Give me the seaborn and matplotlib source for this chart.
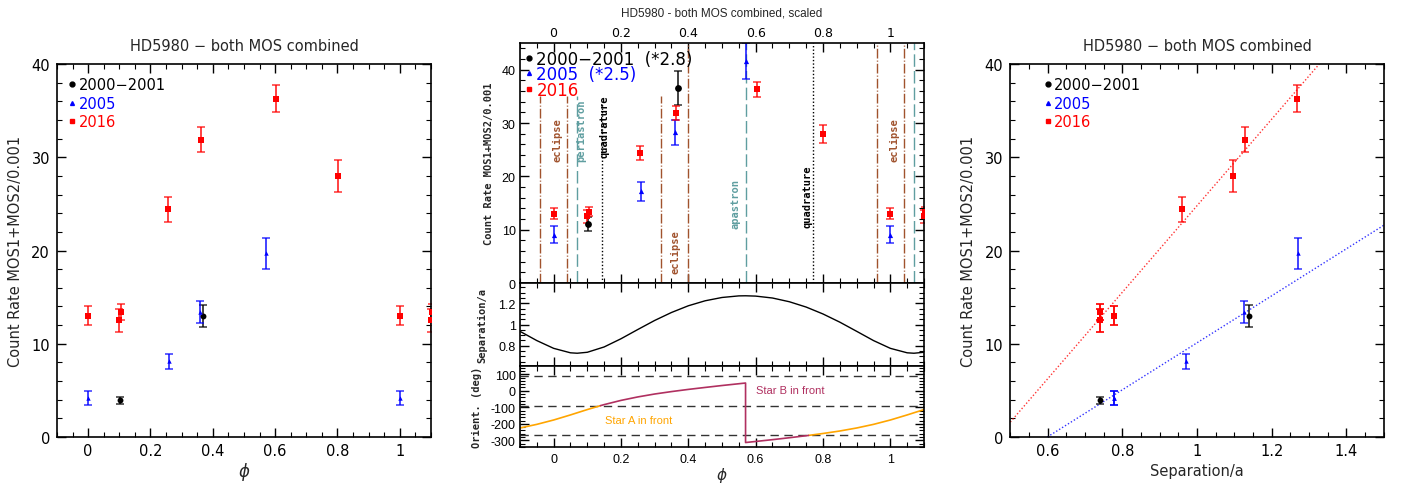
import numpy as np
import seaborn as sns
import matplotlib.pyplot as plt
from matplotlib.lines import Line2D
from matplotlib.ticker import MultipleLocator, FormatStrFormatter

# ---- data ----
# 2000-2001 (black)
phase_00 = [0.101, 0.369]
rate_00 = [3.93, 13.0]
err_00 = [0.40, 1.15]
sep_00 = [0.739, 1.139]
scaled_00 = [11.1, 36.6]
scaled_err_00 = [1.3, 3.2]

# 2005 (blue)
phase_05 = [0.0, 0.26, 0.359, 0.570, 1.0]
rate_05 = [4.2, 8.1, 13.4, 19.7, 4.2]
err_05 = [0.77, 0.85, 1.15, 1.65, 0.77]
sep_05 = [0.777, 0.970, 1.126, 1.270, 0.777]
scaled_05 = [9.06, 17.2, 28.3, 41.6, 9.06]
scaled_err_05 = [1.55, 1.8, 2.35, 3.4, 1.55]

# 2016 (red)
phase_16 = [0.0, 0.104, 0.100, 0.256, 0.363, 0.603, 0.801, 1.0, 1.104, 1.100]
rate_16 = [13.0, 13.4, 12.5, 24.4, 31.9, 36.3, 28.0, 13.0, 13.4, 12.5]
err_16 = [1.0, 0.85, 1.2, 1.35, 1.35, 1.4, 1.7, 1.0, 0.85, 1.2]
sep_16 = [0.777, 0.739, 0.739, 0.960, 1.129, 1.268, 1.096, 0.777, 0.739, 0.739]

# linear fits in the right panel (slope, intercept)
fit_16 = (46.4, -21.6)
fit_05 = (25.2, -15.1)

# orbital separation curve
orb_phase = [-0.10, -0.05, 0.00, 0.05, 0.07, 0.10, 0.15, 0.20, 0.25, 0.30, 0.35,
             0.40, 0.45, 0.50, 0.55, 0.57, 0.60, 0.65, 0.70, 0.75, 0.80, 0.85,
             0.90, 0.95, 1.00, 1.05, 1.07, 1.10]
orb_sep = [0.936, 0.849, 0.776, 0.734, 0.730, 0.739, 0.789, 0.866, 0.953, 1.038,
           1.113, 1.176, 1.223, 1.254, 1.269, 1.270, 1.267, 1.249, 1.214, 1.164,
           1.099, 1.022, 0.936, 0.849, 0.776, 0.734, 0.730, 0.739]

# orientation curve (deg)
ori_phase = [-0.10, -0.05, 0.00, 0.05, 0.07, 0.10, 0.139, 0.15, 0.20, 0.25, 0.30,
             0.35, 0.40, 0.45, 0.50, 0.55, 0.57, 0.57, 0.60, 0.65, 0.70, 0.75,
             0.757, 0.80, 0.85, 0.90, 0.95, 1.00, 1.05, 1.07, 1.10]
ori_deg = [-225.0, -203.1, -176.7, -146.0, -133.0, -113.6, -90.0, -83.6, -58.1,
           -37.1, -19.5, -4.8, 8.4, 20.3, 31.9, 42.7, 47.0, -313.0, -306.6,
           -295.6, -284.0, -271.8, -270.0, -258.3, -243.2, -225.0, -203.1,
           -176.7, -146.0, -133.0, -113.6]
ori_limits = [90, -90, -270]

# phase markers in the scaled panel
eclipse_phase = [-0.04, 0.04, 0.32, 0.40, 0.96, 1.04]
eclipse_top = [35, 35, 35, 45, 45, 45]
apsis_phase = [0.07, 0.57, 1.07]
apsis_top = [35, 45, 45]
quad_phase = [0.145, 0.77]
quad_top = [34, 45]
marker_labels = ["eclipse", "periastron", "quadrature", "eclipse", "apastron",
                 "quadrature", "eclipse"]
marker_label_x = [0.012, 0.083, 0.152, 0.363, 0.54, 0.753, 1.012]
marker_label_y = [26.9, 28.8, 29.4, 6.0, 15.0, 16.3, 26.9]

BROWN = "#a0522d"
TEAL = "#5f9ea0"
PURPLE = "#b03060"
ORANGE = "#ffa500"

sns.set_theme(style="ticks", rc={"axes.linewidth": 1.2, "axes.edgecolor": "black"})
plt.rcParams["font.family"] = ["DejaVu Sans"]
MONO = "DejaVu Sans Mono"
HELV = "Liberation Sans"

fig = plt.figure(figsize=(14.03, 4.85), dpi=100)
axL = fig.add_axes([0.0406, 0.0969, 0.2666, 0.769])
axT = fig.add_axes([0.3706, 0.4144, 0.288, 0.4948])
axS = fig.add_axes([0.3706, 0.2433, 0.288, 0.1711])
axO = fig.add_axes([0.3706, 0.0763, 0.288, 0.167])
axR = fig.add_axes([0.7201, 0.0969, 0.2661, 0.769])


def style_axes(ax, xmaj, xmin, ymaj, ymin, size, family=None):
    ax.xaxis.set_major_locator(MultipleLocator(xmaj))
    ax.xaxis.set_minor_locator(MultipleLocator(xmin))
    ax.yaxis.set_major_locator(MultipleLocator(ymaj))
    ax.yaxis.set_minor_locator(MultipleLocator(ymin))
    ax.xaxis.set_major_formatter(FormatStrFormatter("%g"))
    ax.yaxis.set_major_formatter(FormatStrFormatter("%g"))
    ax.tick_params(which="both", direction="in", top=True, right=True,
                   colors="black", labelsize=size)
    ax.tick_params(which="major", length=6.5, width=1.0)
    ax.tick_params(which="minor", length=3.3, width=0.8)
    ax.tick_params(axis="y", pad=5)
    ax.tick_params(axis="x", pad=4)
    if family:
        for lab in ax.get_xticklabels() + ax.get_yticklabels():
            lab.set_family(family)


def centre_labels(ax, xpos=None, ypos=None):
    if xpos is not None:
        ax.xaxis.label.set_va("center")
        ax.xaxis.set_label_coords(0.5, xpos)
    if ypos is not None:
        ax.yaxis.label.set_va("center")
        ax.yaxis.set_label_coords(ypos, 0.5)


def plot_series(ax, x, y, e, color, marker, size):
    ax.errorbar(x, y, yerr=e, fmt="none", ecolor=color, elinewidth=1.3,
                capsize=2.6, capthick=1.1, alpha=0.8, zorder=2)
    sns.scatterplot(x=x, y=y, ax=ax, color=color, marker=marker, s=size,
                    linewidth=0, zorder=3, legend=False)


def year_legend(ax, labels, anchor, fontsize, spacing):
    handles = [Line2D([], [], ls="none", marker="o", color="black", ms=3.5),
               Line2D([], [], ls="none", marker="^", color="blue", ms=2.8),
               Line2D([], [], ls="none", marker="s", color="red", ms=3.2)]
    ax.legend(handles, labels, loc="upper left", bbox_to_anchor=anchor,
              frameon=False, handlelength=0.5, handletextpad=0.2,
              labelspacing=spacing, borderaxespad=0, borderpad=0,
              fontsize=fontsize, labelcolor=["black", "blue", "red"])


# ---------- left panel: count rate vs phase ----------
plot_series(axL, phase_00, rate_00, err_00, "black", "o", 18)
plot_series(axL, phase_05, rate_05, err_05, "blue", "^", 10)
plot_series(axL, phase_16, rate_16, err_16, "red", "s", 14)
axL.set_xlim(-0.1, 1.1)
axL.set_ylim(0, 40)
style_axes(axL, 0.2, 0.05, 10, 2, 10.5)
axL.set_title("HD5980 \u2212 both MOS combined", fontsize=10.5, pad=10)
axL.set_xlabel("$\\phi$", fontsize=12)
axL.set_ylabel("Count Rate MOS1+MOS2/0.001", fontsize=10.5)
centre_labels(axL, xpos=-0.09, ypos=-0.112)
year_legend(axL, ["2000\u22122001", "2005", "2016"], (0.03, 0.965), 10.5, 0.25)

# ---------- middle top: scaled count rates ----------
for x, top in zip(eclipse_phase, eclipse_top):
    axT.plot([x, x], [0, top], color=BROWN, lw=1.0, ls=(0, (7, 1.5, 0.8, 1.5)), zorder=1)
for x, top in zip(apsis_phase, apsis_top):
    axT.plot([x, x], [0, top], color=TEAL, lw=1.0, ls=(0, (9, 3)), zorder=1)
for x, top in zip(quad_phase, quad_top):
    axT.plot([x, x], [0, top], color="black", lw=1.0, ls=(0, (1, 1.5)), zorder=1)
label_colors = {"eclipse": BROWN, "periastron": TEAL, "apastron": TEAL, "quadrature": "black"}
for txt, x, y in zip(marker_labels, marker_label_x, marker_label_y):
    axT.text(x, y, txt, rotation=90, ha="center", va="center", fontsize=7.5,
             family=MONO, fontweight="bold", color=label_colors[txt])

plot_series(axT, phase_00, scaled_00, scaled_err_00, "black", "o", 24)
plot_series(axT, phase_05, scaled_05, scaled_err_05, "blue", "^", 14)
plot_series(axT, phase_16, rate_16, err_16, "red", "s", 22)
axT.set_xlim(-0.1, 1.1)
axT.set_ylim(0, 45)
style_axes(axT, 0.2, 0.05, 10, 2, 9, HELV)
axT.tick_params(labeltop=True, labelbottom=False, pad=3)
axT.set_title("HD5980 - both MOS combined, scaled", fontsize=8.5, family=HELV, pad=20)
axT.set_ylabel("Count Rate MOS1+MOS2/0.001", fontsize=7.5, family=MONO, fontweight="bold")
centre_labels(axT, ypos=-0.077)
year_legend(axT, ["2000\u22122001  (*2.8)", "2005  (*2.5)", "2016"], (0.012, 0.972), 12, -0.15)

# ---------- middle: separation ----------
sns.lineplot(x=orb_phase, y=orb_sep, ax=axS, color="black", lw=1.0,
             sort=False, estimator=None)
axS.set_xlim(-0.1, 1.1)
axS.set_ylim(0.61, 1.39)
style_axes(axS, 0.2, 0.05, 0.2, 0.05, 9, HELV)
axS.tick_params(labelbottom=False, pad=3)
axS.set_ylabel("Separation/a", fontsize=7.5, family=MONO, fontweight="bold")
centre_labels(axS, ypos=-0.092)

# ---------- middle bottom: orientation ----------
deg = np.array(ori_deg)
starA = (deg <= -90) & (deg >= -270)
starB = (deg >= -90) | (deg <= -270)
for lim in ori_limits:
    axO.axhline(lim, color="#333333", lw=1.0, ls=(0, (6, 4)), zorder=1)
axO.plot(ori_phase, np.where(starA, deg, np.nan), color=ORANGE, lw=1.2)
axO.plot(ori_phase, np.where(starB, deg, np.nan), color=PURPLE, lw=1.2)
axO.text(0.601, 2, "Star B in front", color=PURPLE, fontsize=8, family=HELV,
         ha="left", va="center")
axO.text(0.152, -175, "Star A in front", color=ORANGE, fontsize=8, family=HELV,
         ha="left", va="center")
axO.set_xlim(-0.1, 1.1)
axO.set_ylim(-340, 150)
style_axes(axO, 0.2, 0.05, 100, 20, 9, HELV)
axO.tick_params(axis="y", pad=3)
axO.set_ylabel("Orient. (deg)", fontsize=7.5, family=MONO, fontweight="bold")
axO.set_xlabel("$\\phi$", fontsize=11)
centre_labels(axO, xpos=-0.34, ypos=-0.106)

# ---------- right panel: count rate vs separation ----------
axR.axline((0, fit_16[1]), slope=fit_16[0], color="red", lw=1.0,
           ls=(0, (1, 1.5)), alpha=0.8, zorder=1)
axR.axline((0, fit_05[1]), slope=fit_05[0], color="blue", lw=1.0,
           ls=(0, (1, 1.5)), alpha=0.8, zorder=1)
plot_series(axR, sep_00, rate_00, err_00, "black", "o", 18)
plot_series(axR, sep_05, rate_05, err_05, "blue", "^", 10)
plot_series(axR, sep_16, rate_16, err_16, "red", "s", 14)
axR.set_xlim(0.5, 1.5)
axR.set_ylim(0, 40)
style_axes(axR, 0.2, 0.05, 10, 2, 10.5)
axR.set_title("HD5980 \u2212 both MOS combined", fontsize=10.5, pad=10)
axR.set_xlabel("Separation/a", fontsize=10.5)
axR.set_ylabel("Count Rate MOS1+MOS2/0.001", fontsize=10.5)
centre_labels(axR, xpos=-0.09, ypos=-0.112)
year_legend(axR, ["2000\u22122001", "2005", "2016"], (0.09, 0.965), 10.5, 0.25)

fig.savefig("out.png", dpi=100)
